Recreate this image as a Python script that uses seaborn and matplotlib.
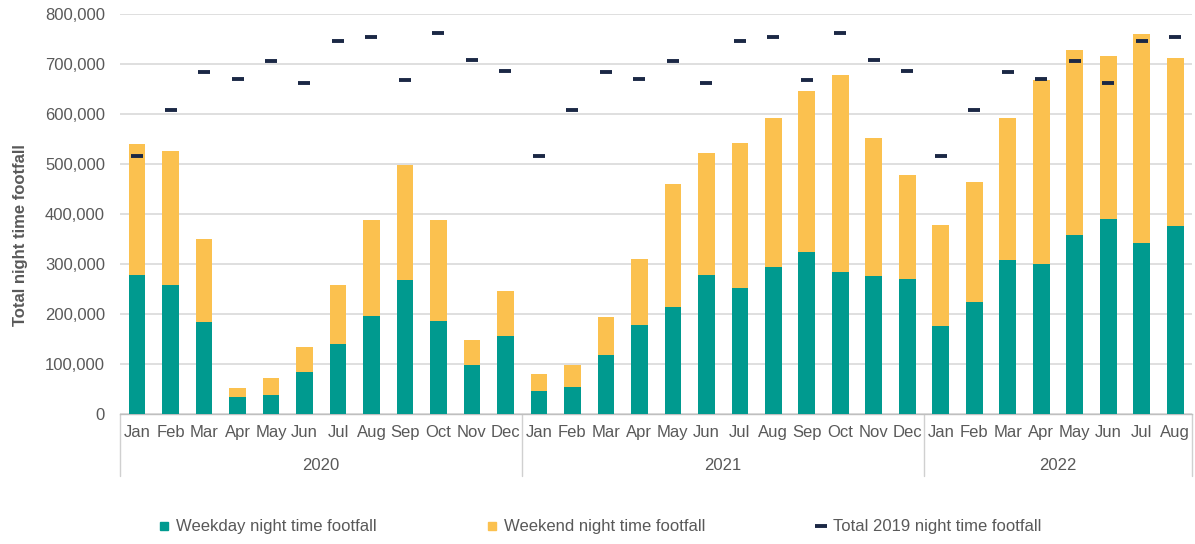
import numpy as np
import pandas as pd
import matplotlib
matplotlib.use("Agg")
import matplotlib.pyplot as plt
import matplotlib.transforms as mtransforms
from matplotlib.lines import Line2D
from matplotlib.ticker import FuncFormatter
import seaborn as sns

# ---------------- data ----------------
months = ["Jan", "Feb", "Mar", "Apr", "May", "Jun", "Jul", "Aug", "Sep", "Oct", "Nov", "Dec",
          "Jan", "Feb", "Mar", "Apr", "May", "Jun", "Jul", "Aug", "Sep", "Oct", "Nov", "Dec",
          "Jan", "Feb", "Mar", "Apr", "May", "Jun", "Jul", "Aug"]
years = ["2020"] * 12 + ["2021"] * 12 + ["2022"] * 8
year_labels = ["2020", "2021", "2022"]

weekday = [279000, 259000, 185000, 34000, 39000, 84000, 141000, 197000, 268000, 187000, 98000, 157000,
           47000, 54000, 119000, 178000, 215000, 279000, 252000, 294000, 325000, 285000, 277000, 270000,
           176000, 224000, 309000, 300000, 359000, 390000, 342000, 377000]
weekend = [262000, 268000, 166000, 19000, 34000, 51000, 118000, 191000, 231000, 201000, 51000, 89000,
           34000, 44000, 75000, 133000, 245000, 244000, 291000, 299000, 322000, 394000, 276000, 209000,
           203000, 241000, 284000, 369000, 370000, 327000, 419000, 336000]
total_2019 = [517000, 608000, 684000, 671000, 706000, 662000, 747000, 754000, 669000, 763000, 709000, 687000,
              517000, 608000, 684000, 671000, 706000, 662000, 747000, 754000, 669000, 763000, 709000, 687000,
              517000, 608000, 684000, 671000, 706000, 662000, 747000, 754000]

y_ticks = [0, 100000, 200000, 300000, 400000, 500000, 600000, 700000, 800000]

# ---------------- style ----------------
TEAL = "#009A8F"
YELLOW = "#FBC14F"
NAVY = "#1B2845"
TEXT = "#595959"
GRID = "#D9D9D9"

sns.set_theme(style="white")
plt.rcParams["font.family"] = ["Liberation Sans", "DejaVu Sans"]
plt.rcParams["font.size"] = 12

df = pd.DataFrame({
    "key": [f"{m} {y}" for m, y in zip(months, years)],
    "month": months,
    "year": years,
    "weekday": weekday,
    "weekend": weekend,
    "base": total_2019,
})
df["total"] = df["weekday"] + df["weekend"]
order = list(df["key"])

fig = plt.figure(figsize=(11.95, 5.44), dpi=100)
ax = fig.add_axes([120.3 / 1195, 1 - 414 / 544, (1192 - 120.3) / 1195, 400 / 544])

sns.barplot(data=df, x="key", y="total", order=order, color=YELLOW, width=0.5,
            linewidth=0, saturation=1, errorbar=None, ax=ax, zorder=2)
sns.barplot(data=df, x="key", y="weekday", order=order, color=TEAL, width=0.5,
            linewidth=0, saturation=1, errorbar=None, ax=ax, zorder=3)
sns.pointplot(data=df, x="key", y="base", order=order, color=NAVY, marker="_",
              linestyle="none", errorbar=None, markersize=8, markeredgewidth=2.8,
              ax=ax, zorder=4)

ax.set_xlim(-0.5, len(order) - 0.5)
ax.set_ylim(0, 800000)
ax.set_yticks(y_ticks)
ax.yaxis.set_major_formatter(FuncFormatter(lambda v, p: f"{int(v):,}"))
ax.grid(axis="y", color=GRID, linewidth=1.2, zorder=0)
ax.grid(axis="x", visible=False)
ax.set_axisbelow(True)
for s in ["left", "right", "top"]:
    ax.spines[s].set_visible(False)
ax.spines["bottom"].set_color("#BFBFBF")
ax.spines["bottom"].set_linewidth(1.0)

ax.set_xticks(range(len(order)))
ax.set_xticklabels(months)
ax.tick_params(axis="x", length=0, pad=8, labelsize=12, labelcolor=TEXT)
ax.tick_params(axis="y", length=0, pad=11, labelsize=12, labelcolor=TEXT)
ax.set_xlabel("")
ax.set_ylabel("")

# year group labels and separators
trans = mtransforms.blended_transform_factory(ax.transData, fig.transFigure)
y_top = 1 - 414 / 544
y_bot = 1 - 476 / 544
bounds = [-0.5]
for yl in year_labels:
    idx = [i for i, y in enumerate(years) if y == yl]
    bounds.append(idx[-1] + 0.5)
    ax.text((idx[0] + idx[-1]) / 2, 1 - 466 / 544, yl, transform=trans, ha="center",
            va="center", fontsize=12, color=TEXT)
for b in bounds:
    ax.add_line(Line2D([b, b], [y_top, y_bot], transform=trans, color="#D0D0D0",
                       linewidth=1.0, clip_on=False))

fig.text(21 / 1195, 1 - 235 / 544, "Total night time footfall", rotation=90,
         ha="center", va="center", fontsize=12, fontweight="bold", color=TEXT)

handles = [
    Line2D([], [], linestyle="none", marker="s", markersize=5.2, color=TEAL),
    Line2D([], [], linestyle="none", marker="s", markersize=5.2, color=YELLOW),
    Line2D([], [], linestyle="none", marker="_", markersize=8, markeredgewidth=2.8, color=NAVY),
]
labels = ["Weekday night time footfall", "Weekend night time footfall",
          "Total 2019 night time footfall"]
leg = fig.legend(handles, labels, loc="center", bbox_to_anchor=(0.502, 1 - 527 / 544),
                 ncol=3, frameon=False, handlelength=0.6, handletextpad=0.4,
                 columnspacing=6.65, fontsize=12)
for t in leg.get_texts():
    t.set_color(TEXT)

fig.savefig("out.png", dpi=100)
